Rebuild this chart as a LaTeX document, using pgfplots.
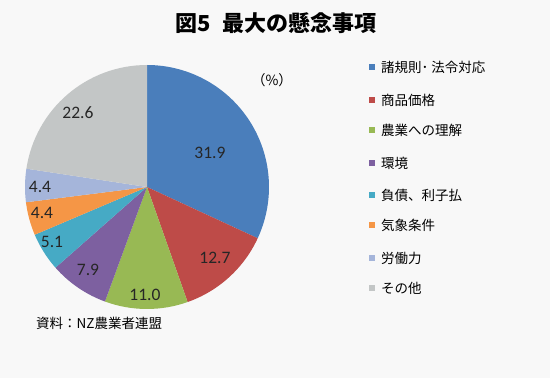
\documentclass[border=0pt]{standalone}
\usepackage{pgfplots}
\usepackage{pgfplotstable}
\pgfplotsset{compat=1.18}
\usepackage{fontspec}
\setmainfont{Noto Sans CJK JP}
\newfontfamily\numfont{Carlito}
\definecolor{bg}{HTML}{F8F8F8}
\definecolor{c0}{HTML}{4A7EBB}
\definecolor{c1}{HTML}{BE4B48}
\definecolor{c2}{HTML}{98B954}
\definecolor{c3}{HTML}{7D60A0}
\definecolor{c4}{HTML}{46AAC5}
\definecolor{c5}{HTML}{F59646}
\definecolor{c6}{HTML}{A5B5DA}
\definecolor{c7}{HTML}{C3C6C6}
\pgfplotstableread[col sep=comma]{
name,val,lx,ly,ky
諸規則･ 法令対応,31.9,210,225,311
商品価格,12.7,215,120,278
農業への理解,11.0,145,83,248
環境,7.9,88,108,215
負債、利子払,5.1,52,136,183
気象条件,4.4,42,165,153
労働力,4.4,40,191,120
その他,22.6,78,265,90
}\piedata
\begin{document}
\begin{tikzpicture}
\begin{axis}[x=1pt,y=1pt,xmin=0,xmax=550,ymin=0,ymax=378,hide axis,clip=false,
  at={(0,0)},anchor=origin]
\fill[bg] (axis cs:0,0) rectangle (axis cs:550,378);
\def\cum{0}
\pgfplotsforeachungrouped \i in {0,...,7}{%
  \pgfplotstablegetelem{\i}{val}\of\piedata \let\v\pgfplotsretval
  \pgfplotstablegetelem{\i}{lx}\of\piedata \let\lx\pgfplotsretval
  \pgfplotstablegetelem{\i}{ly}\of\piedata \let\ly\pgfplotsretval
  \pgfplotstablegetelem{\i}{ky}\of\piedata \let\ky\pgfplotsretval
  \pgfplotstablegetelem{\i}{name}\of\piedata \let\nm\pgfplotsretval
  \pgfmathsetmacro\a{90-3.6*\cum}%
  \pgfmathsetmacro\b{90-3.6*(\cum+\v)}%
  \pgfmathsetmacro\cum{\cum+\v}%
  \edef\temp{%
    \noexpand\fill[c\i] (axis cs:147,191) -- ++(\a:122pt) arc[start angle=\a, end angle=\b, radius=122pt] -- cycle;
    \noexpand\fill[c\i] (axis cs:369,\ky-3) rectangle (axis cs:375,\ky+3);
    \noexpand\node[anchor=west,font=\noexpand\fontsize{13.5}{15}\noexpand\selectfont,inner sep=0pt] at (axis cs:381,\ky) {\nm};
  }\temp
  \edef\temp{%
    \noexpand\node[font=\noexpand\numfont\noexpand\fontsize{17.5}{19}\noexpand\selectfont,text=black!85] at (axis cs:\lx,\ly) {\v};
  }\temp
}
\node[font=\fontsize{22}{24}\selectfont\bfseries] at (axis cs:276,355) {図5\hspace{0.5em}最大の懸念事項};
\node[font=\fontsize{14}{16}\selectfont] at (axis cs:272,298) {（\%）};
\node[anchor=west,font=\fontsize{13.5}{15}\selectfont,inner sep=0pt] at (axis cs:36,55) {資料：NZ農業者連盟};
\end{axis}
\end{tikzpicture}
\end{document}
